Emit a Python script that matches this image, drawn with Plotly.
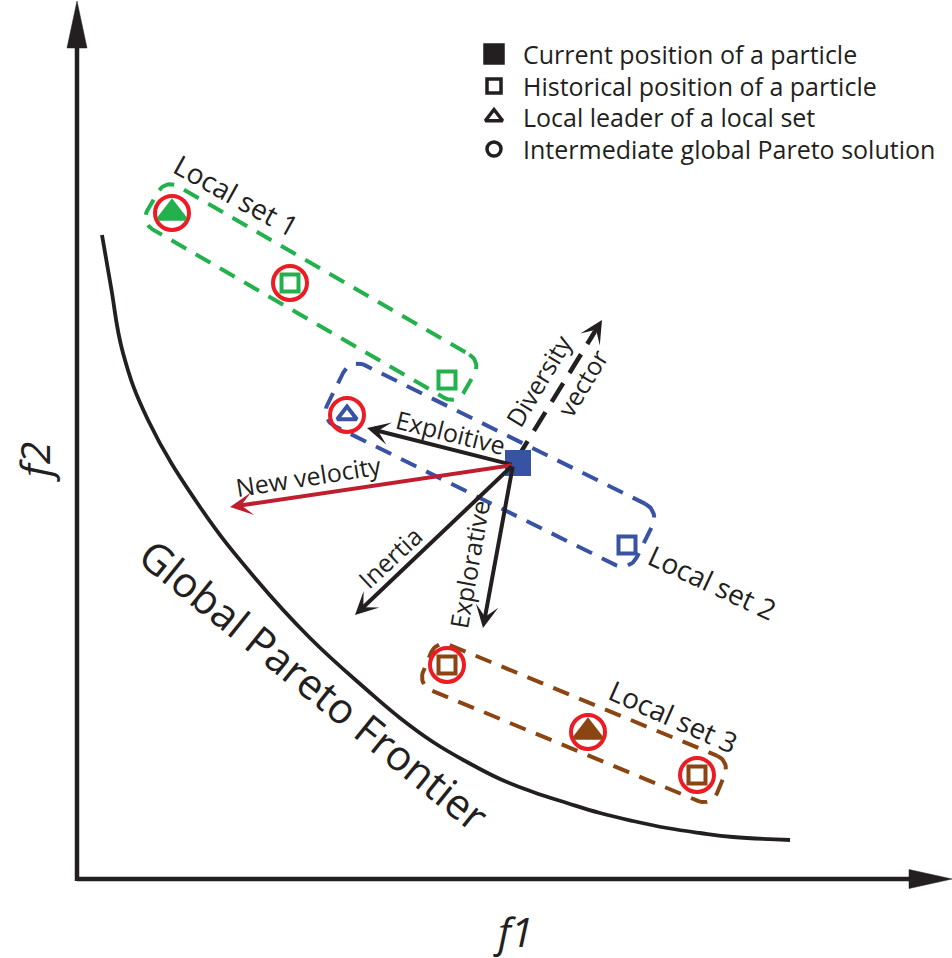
import numpy as np
import plotly.graph_objects as go

W, H = 952, 958
INK = "#231F20"
FONT = "Open Sans"

# ---------------- data (diagram units: x to the right, y downward) ----------------
front_x = [102, 111, 123, 148, 200, 255, 310, 367, 400, 433, 467, 500, 533, 567, 600, 633, 667, 700, 733, 790]
front_y = [235, 287, 353, 420, 507, 578, 638, 690, 718, 742, 762, 779, 792, 803, 813, 821, 828, 833, 837, 840]

set_names = ["Local set 1", "Local set 2", "Local set 3"]
set_colors = ["#22B14C", "#3953A4", "#8B4513"]
box_cx = [311, 490, 574]
box_cy = [292, 465, 723]
box_len = [365, 345, 318]
box_wid = [50, 68, 49]
box_ang = [30, 26.3, 22.5]
box_rad = [14, 16, 14]
set_lab_x = [236, 712, 673]
set_lab_y = [195, 582, 716]
set_lab_ang = [29, 25, 24]

# particles
p_x = [172, 290, 447, 347, 518, 627, 447, 588, 697]
p_y = [213, 283, 380, 415, 463, 545, 665, 732, 775]
p_set = [0, 0, 0, 1, 1, 1, 2, 2, 2]
p_kind = ["leader", "hist", "hist", "leader_open", "current", "hist", "hist", "leader", "hist"]
p_pareto = [1, 1, 0, 1, 0, 0, 1, 1, 1]

# velocity components from the current particle
origin = (513, 465)
arrow_names = ["Exploitive", "New velocity", "Inertia", "Explorative"]
arrow_tip_x = [367, 230, 355, 483]
arrow_tip_y = [428, 507, 615, 628]
arrow_colors = [INK, "#BE1E2D", INK, INK]
arrow_lab_x = [451, 308, 390, 469]
arrow_lab_y = [432, 476, 557, 565]
arrow_lab_ang = [14, -9, -43, -80]

div_tip = (602, 320)
div_labels = ["Diversity", "vector"]
div_lab_x = [538, 582]
div_lab_y = [381, 383]
div_lab_ang = [-59, -59]

legend_labels = ["Current position of a particle", "Historical position of a particle",
                 "Local leader of a local set", "Intermediate global Pareto solution"]
legend_symbols = ["square", "square-open", "triangle-up-open", "circle-open"]
legend_y = [54, 86, 117, 149]
legend_x = 494
legend_text_x = 521

# axes frame (origin, ends)
ax_origin = (77, 879)
ax_x_end = 952
ax_y_end = 1

# ---------------- figure ----------------
fig = go.Figure()


def rounded_rect(cx, cy, L, Wd, ang, r, n=14):
    hl, hw = L / 2 - r, Wd / 2 - r
    pts = []
    for ux, vy, a0, a1 in [(hl, -hw, -90, 0), (hl, hw, 0, 90), (-hl, hw, 90, 180), (-hl, -hw, 180, 270)]:
        t = np.radians(np.linspace(a0, a1, n))
        pts.append(np.c_[ux + r * np.cos(t), vy + r * np.sin(t)])
    P = np.vstack(pts + [pts[0][:1]])
    th = np.radians(ang)
    x = cx + P[:, 0] * np.cos(th) - P[:, 1] * np.sin(th)
    y = cy + P[:, 0] * np.sin(th) + P[:, 1] * np.cos(th)
    return x, y


# axes lines
ox, oy = ax_origin
fig.add_trace(go.Scatter(x=[ox, ax_x_end - 42], y=[oy, oy], mode="lines",
                         line=dict(color=INK, width=4.5), hoverinfo="skip"))
fig.add_trace(go.Scatter(x=[ox, ox], y=[oy + 2, ax_y_end + 46], mode="lines",
                         line=dict(color=INK, width=4.5), hoverinfo="skip"))
# axis heads
fig.add_trace(go.Scatter(x=[ax_x_end, ax_x_end - 43, ax_x_end - 43, ax_x_end],
                         y=[oy, oy - 9.5, oy + 9.5, oy], mode="lines", fill="toself",
                         fillcolor=INK, line=dict(color=INK, width=0.5), hoverinfo="skip"))
fig.add_trace(go.Scatter(x=[ox, ox - 10, ox + 10, ox],
                         y=[ax_y_end, ax_y_end + 47, ax_y_end + 47, ax_y_end], mode="lines", fill="toself",
                         fillcolor=INK, line=dict(color=INK, width=0.5), hoverinfo="skip"))

# Pareto frontier
fig.add_trace(go.Scatter(x=front_x, y=front_y, mode="lines",
                         line=dict(color=INK, width=3.8, shape="spline", smoothing=1.2),
                         hoverinfo="skip"))

# local set boxes
for i in range(3):
    bx, by = rounded_rect(box_cx[i], box_cy[i], box_len[i], box_wid[i], box_ang[i], box_rad[i])
    fig.add_trace(go.Scatter(x=bx, y=by, mode="lines",
                             line=dict(color=set_colors[i], width=4, dash="17px,11px"),
                             hoverinfo="skip"))

# diversity vector (dashed)
dx, dy = div_tip[0] - origin[0], div_tip[1] - origin[1]
dl = np.hypot(dx, dy)
ux, uy = dx / dl, dy / dl
fig.add_trace(go.Scatter(x=[origin[0] + 6 * ux, div_tip[0] - 14 * ux],
                         y=[origin[1] + 6 * uy, div_tip[1] - 14 * uy], mode="lines",
                         line=dict(color=INK, width=4.5, dash="22px,12px"), hoverinfo="skip"))

# red Pareto circles
cx_ = [p_x[i] for i in range(len(p_x)) if p_pareto[i]]
cy_ = [p_y[i] for i in range(len(p_y)) if p_pareto[i]]
fig.add_trace(go.Scatter(x=cx_, y=cy_, mode="markers", cliponaxis=False,
                         marker=dict(symbol="circle-open", size=34, color="#ED1C24",
                                     line=dict(width=4, color="#ED1C24")), hoverinfo="skip"))

# particles
sym_map = {"leader": ("triangle-up", 23), "leader_open": ("triangle-up-open", 17),
           "current": ("square", 22), "hist": ("square-open", 17)}
for i in range(len(p_x)):
    sym, sz = sym_map[p_kind[i]]
    c = set_colors[p_set[i]]
    fig.add_trace(go.Scatter(x=[p_x[i]], y=[p_y[i]], mode="markers", cliponaxis=False,
                             marker=dict(symbol=sym, size=sz, color=c, line=dict(width=4, color=c)),
                             hoverinfo="skip"))

# velocity arrows
for i in range(len(arrow_names)):
    fig.add_annotation(x=arrow_tip_x[i], y=arrow_tip_y[i], ax=origin[0], ay=origin[1],
                       xref="x", yref="y", axref="x", ayref="y", text="", showarrow=True,
                       arrowhead=3, arrowsize=0.95, arrowwidth=4, arrowcolor=arrow_colors[i],
                       standoff=0, startstandoff=0)
    fig.add_annotation(x=arrow_lab_x[i], y=arrow_lab_y[i], xref="x", yref="y", text=arrow_names[i],
                       showarrow=False, textangle=arrow_lab_ang[i],
                       font=dict(family=FONT, size=25, color=INK))

# diversity head
fig.add_annotation(x=div_tip[0], y=div_tip[1], ax=div_tip[0] - 24 * ux, ay=div_tip[1] - 24 * uy,
                   xref="x", yref="y", axref="x", ayref="y", text="", showarrow=True,
                   arrowhead=3, arrowsize=0.95, arrowwidth=4, arrowcolor=INK, standoff=0)
for i in range(2):
    fig.add_annotation(x=div_lab_x[i], y=div_lab_y[i], xref="x", yref="y", text=div_labels[i],
                       showarrow=False, textangle=div_lab_ang[i],
                       font=dict(family=FONT, size=25, color=INK))

# local set labels
for i in range(3):
    fig.add_annotation(x=set_lab_x[i], y=set_lab_y[i], xref="x", yref="y", text=set_names[i],
                       showarrow=False, textangle=set_lab_ang[i],
                       font=dict(family=FONT, size=28, color=INK))

# frontier label
fig.add_annotation(x=315, y=684, xref="x", yref="y", text="Global Pareto Frontier",
                   showarrow=False, textangle=39, font=dict(family=FONT, size=42, color=INK))

# axis titles
fig.add_annotation(x=513, y=931, xref="x", yref="y", text="<i>f1</i>", showarrow=False,
                   font=dict(family=FONT, size=41, color=INK))
fig.add_annotation(x=34, y=462, xref="x", yref="y", text="<i>f2</i>", showarrow=False,
                   textangle=-90, font=dict(family=FONT, size=41, color=INK))

# legend
leg_sizes = [18, 14, 15, 14]
for i in range(4):
    fig.add_trace(go.Scatter(x=[legend_x], y=[legend_y[i]], mode="markers", cliponaxis=False,
                             marker=dict(symbol=legend_symbols[i], size=leg_sizes[i], color=INK,
                                         line=dict(width=3.5, color=INK)), hoverinfo="skip"))
    fig.add_annotation(x=legend_text_x, y=legend_y[i], xref="x", yref="y", text=legend_labels[i],
                       xanchor="left", yanchor="middle", showarrow=False,
                       font=dict(family=FONT, size=25, color=INK))

fig.update_layout(width=W, height=H, margin=dict(l=0, r=0, t=0, b=0),
                  paper_bgcolor="white", plot_bgcolor="white", showlegend=False,
                  xaxis=dict(range=[0, W], visible=False, fixedrange=True),
                  yaxis=dict(range=[H, 0], visible=False, fixedrange=True))

fig.write_html("out.html", config={"displayModeBar": False},
               post_script="document.body.style.margin='0';document.body.style.overflow='hidden';")
